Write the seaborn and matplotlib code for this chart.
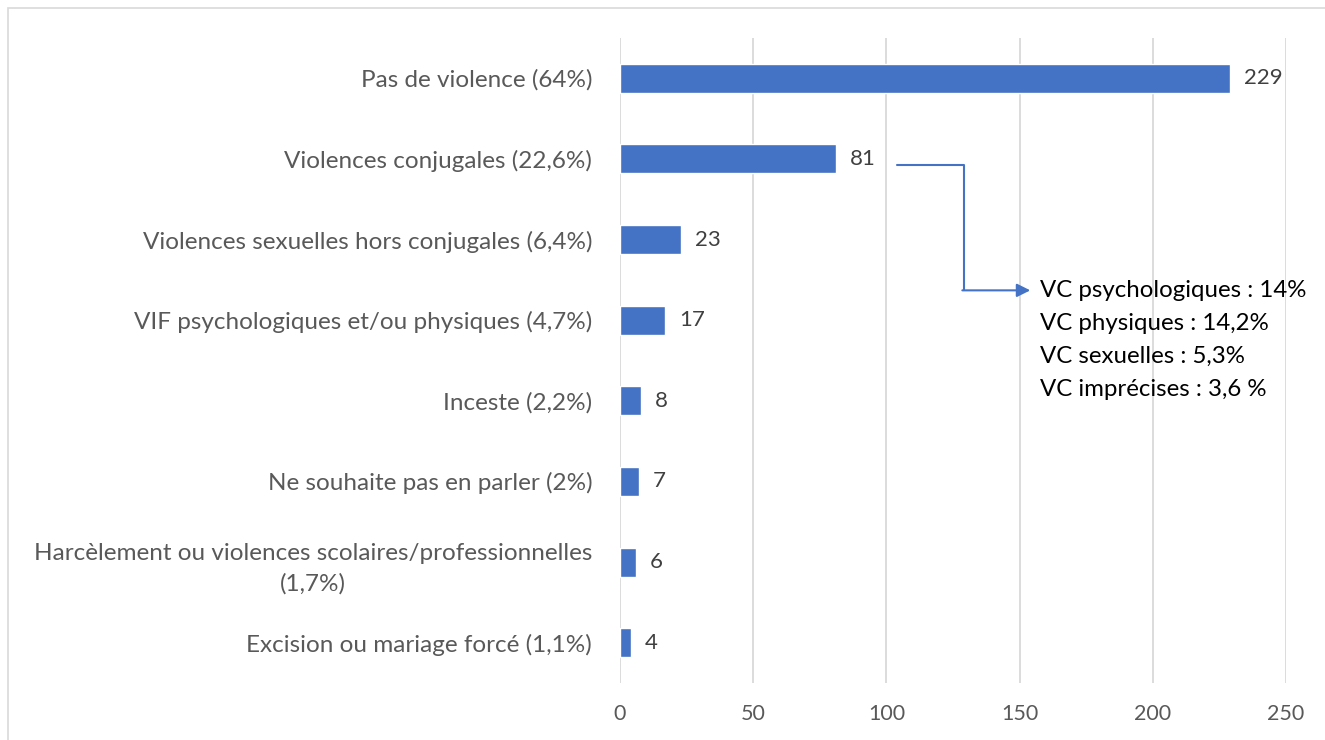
import numpy as np
import pandas as pd
import seaborn as sns
import matplotlib.pyplot as plt
from matplotlib.patches import Rectangle

categories = ['Pas de violence (64%)',
              'Violences conjugales (22,6%)',
              'Violences sexuelles hors conjugales (6,4%)',
              'VIF psychologiques et/ou physiques (4,7%)',
              'Inceste (2,2%)',
              'Ne souhaite pas en parler (2%)',
              'Harcèlement ou violences scolaires/professionnelles\n(1,7%)',
              'Excision ou mariage forcé (1,1%)']
values = [229, 81, 23, 17, 8, 7, 6, 4]
detail_vc = ['VC psychologiques : 14%',
             'VC physiques : 14,2%',
             'VC sexuelles : 5,3%',
             'VC imprécises : 3,6 %']
x_ticks = [0, 50, 100, 150, 200, 250]

df = pd.DataFrame({'Categorie': categories, 'Valeur': values})

sns.set_style('white')
plt.rcParams['font.family'] = ['Lato', 'DejaVu Sans']

fig = plt.figure(figsize=(13.25, 7.4), dpi=100)
ax = fig.add_axes([620/1325, 1-683/740, (1286-620)/1325, (683-38)/740])

blue = '#4472C4'
sns.barplot(data=df, x='Valeur', y='Categorie', orient='h', color=blue,
            width=0.36, saturation=1, ax=ax)
ax.bar_label(ax.containers[0], padding=10, fontsize=16, color='#404040')

ax.set_xlim(0, 250)
ax.set_ylim(len(categories) - 0.5, -0.5)
ax.set_xticks(x_ticks)
ax.grid(axis='x', color='#D9D9D9', linewidth=1.3)
ax.set_axisbelow(True)
for s in ax.spines.values():
    s.set_visible(False)
ax.set_xlabel('')
ax.set_ylabel('')
ax.tick_params(axis='y', length=0, pad=20, labelsize=17.5, labelcolor='#595959')
ax.tick_params(axis='x', length=0, pad=15, labelsize=15.5, labelcolor='#595959')
for lab in ax.get_yticklabels():
    lab.set_multialignment('center')
    lab.set_linespacing(1.5)

# fleche de detail des violences conjugales
y0 = 1.08
y1 = 2.63
ax.plot([104, 129, 129], [y0, y0, y1], color=blue, lw=1.5, clip_on=False)
ax.annotate('', xy=(154, y1), xytext=(128.5, y1),
            arrowprops=dict(arrowstyle='-|>', color=blue, lw=1.5,
                            mutation_scale=20, shrinkA=0, shrinkB=0))
for i, t in enumerate(detail_vc):
    ax.text(157.5, y1 + i*0.408, t, va='center', ha='left', fontsize=17.3, color='black')

fig.patches.append(Rectangle((8/1325, -0.1), 1.2, 1 - 8/740 + 0.1, transform=fig.transFigure,
                             fill=False, edgecolor='#D9D9D9', lw=1.2))

plt.savefig('out.png', dpi=100)
